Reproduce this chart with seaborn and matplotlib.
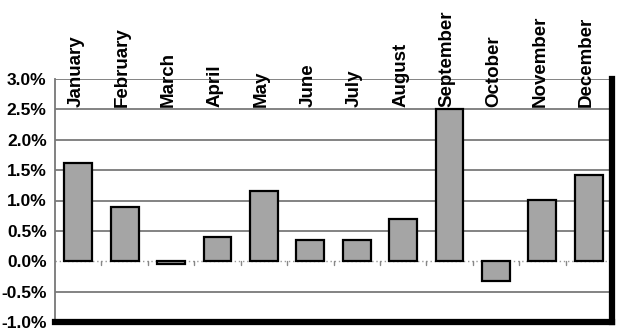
import matplotlib
matplotlib.use("Agg")
import matplotlib.pyplot as plt
import seaborn as sns
import numpy as np
import pandas as pd
from matplotlib.ticker import FuncFormatter, MultipleLocator

months = ["January", "February", "March", "April", "May", "June",
          "July", "August", "September", "October", "November", "December"]
returns = [1.61, 0.89, -0.05, 0.40, 1.15, 0.35, 0.35, 0.69, 2.50, -0.33, 1.01, 1.42]
y_ticks = [-1.0, -0.5, 0.0, 0.5, 1.0, 1.5, 2.0, 2.5, 3.0]

df = pd.DataFrame({"month": months, "ret": returns})

sns.set_theme(style="white")
plt.rcParams["font.family"] = ["Liberation Sans", "DejaVu Sans"]

fig = plt.figure(figsize=(6.2, 3.35), dpi=100)
ax = fig.add_axes([55/620, 1 - 322/335, (612-55)/620, (322-79)/335])

sns.barplot(data=df, x="month", y="ret", order=months, color="#a5a5a5",
            edgecolor="black", linewidth=1.6, width=0.6, saturation=1, ax=ax, zorder=3)

ax.set_ylim(y_ticks[0], y_ticks[-1])
ax.set_xlim(-0.5, len(months) - 0.5)
ax.set_yticks(y_ticks)
ax.yaxis.set_major_formatter(FuncFormatter(lambda v, p: f"{v:.1f}%"))
for lab in ax.get_yticklabels():
    lab.set_fontweight("bold")
    lab.set_fontsize(12.5)
ax.tick_params(axis="y", length=4, width=1.2, pad=2, colors="#777777", labelcolor="black")
ax.set_xticks([])
ax.set_xlabel("")
ax.set_ylabel("")

for v in y_ticks[1:]:
    if v != 0:
        ax.axhline(v, color="#7a7a7a", lw=1.3, zorder=1)
ax.axhline(0, color="#999999", lw=1.0, ls=(0, (1, 2)), zorder=1)

# small ticks at category boundaries below the zero line
for k in range(len(months) - 1):
    ax.plot([k + 0.5, k + 0.5], [0, -0.06], color="#888888", lw=1.0, zorder=2)

for i, m in enumerate(months):
    ax.text(i - 0.05, 2.54, m, rotation=90, ha="center", va="bottom",
            fontsize=13.5, fontweight="bold", color="black", clip_on=False, zorder=5)

ax.spines["left"].set_color("#777777")
ax.spines["left"].set_linewidth(1.3)
ax.spines["top"].set_visible(False)
ax.spines["right"].set_color("black")
ax.spines["right"].set_linewidth(4.5)
ax.spines["bottom"].set_color("black")
ax.spines["bottom"].set_linewidth(4.5)

fig.savefig("out.png", dpi=100, facecolor="white")
